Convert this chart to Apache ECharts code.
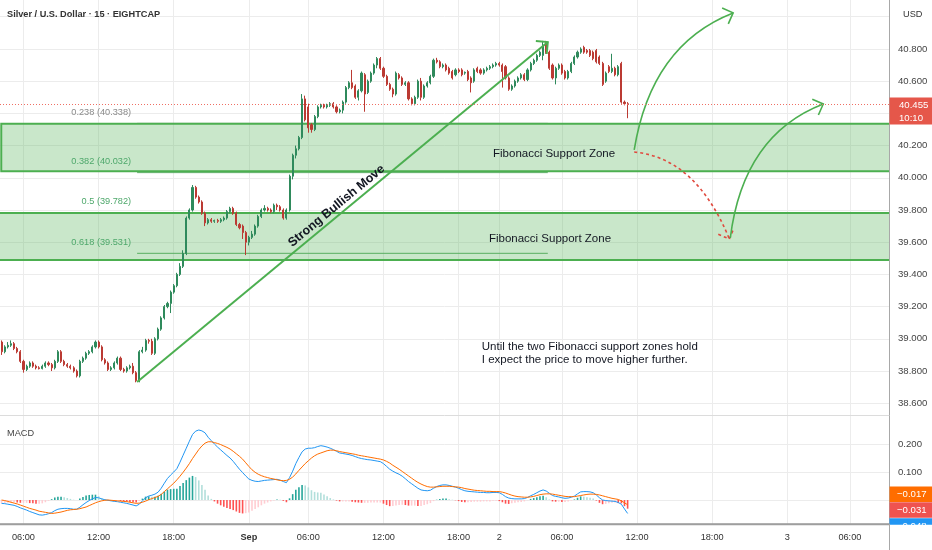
<!DOCTYPE html>
<html>
<head>
<meta charset="utf-8">
<script src="https://cdn.jsdelivr.net/npm/echarts@6/dist/echarts.min.js"></script>
<style>html,body{margin:0;padding:0;background:#fff;}#chart{width:932px;height:550px;}</style>
</head>
<body>
<div id="chart"></div>
<script>
// ---------------- data ----------------
const chartTitle = 'Silver / U.S. Dollar · 15 · EIGHTCAP';
const currency = 'USD';
const paneTitle = 'MACD';
const slotCount = 284; // bars visible incl. empty future space
const xLabelIdx = [7, 31, 55, 79, 98, 122, 146, 159, 179, 203, 227, 251, 271];
const xLabels = ['06:00', '12:00', '18:00', 'Sep', '06:00', '12:00', '18:00', '2', '06:00', '12:00', '18:00', '3', '06:00'];
const priceTicks = [38.6, 38.8, 39.0, 39.2, 39.4, 39.6, 39.8, 40.0, 40.2, 40.4, 40.6, 40.8, 41.0];
const macdTicks = [0, 0.1, 0.2];
// [open, close, low, high]
const candles = [
[38.98,38.92,38.90,38.99],[38.92,38.95,38.91,38.96],[38.95,38.96,38.94,38.98],[38.96,38.97,38.95,38.99],[38.97,38.94,38.93,38.98],
[38.94,38.92,38.91,38.95],[38.92,38.86,38.85,38.93],[38.86,38.81,38.79,38.87],[38.81,38.83,38.80,38.84],[38.83,38.85,38.82,38.86],
[38.85,38.83,38.82,38.86],[38.83,38.82,38.81,38.84],[38.82,38.815,38.81,38.83],[38.815,38.83,38.81,38.84],[38.83,38.85,38.82,38.86],
[38.85,38.84,38.83,38.86],[38.84,38.82,38.80,38.85],[38.82,38.86,38.81,38.87],[38.86,38.92,38.85,38.93],[38.92,38.86,38.85,38.93],
[38.86,38.84,38.83,38.87],[38.84,38.83,38.82,38.85],[38.83,38.82,38.81,38.84],[38.82,38.80,38.79,38.83],[38.80,38.77,38.76,38.81],
[38.77,38.86,38.76,38.87],[38.86,38.88,38.85,38.89],[38.88,38.91,38.87,38.92],[38.91,38.92,38.90,38.93],[38.92,38.95,38.91,38.96],
[38.95,38.98,38.94,38.99],[38.98,38.95,38.94,38.99],[38.95,38.87,38.86,38.96],[38.87,38.85,38.84,38.88],[38.85,38.81,38.80,38.86],
[38.81,38.82,38.80,38.83],[38.82,38.85,38.81,38.86],[38.85,38.88,38.84,38.89],[38.88,38.81,38.80,38.89],[38.81,38.80,38.79,38.82],
[38.80,38.82,38.79,38.83],[38.82,38.83,38.81,38.84],[38.83,38.79,38.78,38.85],[38.79,38.74,38.73,38.80],[38.74,38.92,38.73,38.93],
[38.92,38.93,38.91,38.95],[38.93,38.99,38.92,39.00],[38.99,38.985,38.97,39.00],[38.985,38.91,38.90,39.00],[38.91,39.00,38.90,39.01],
[39.00,39.06,38.99,39.07],[39.06,39.13,39.05,39.14],[39.13,39.20,39.12,39.21],[39.20,39.22,39.19,39.23],[39.22,39.29,39.16,39.30],
[39.29,39.33,39.28,39.34],[39.33,39.40,39.32,39.41],[39.40,39.45,39.39,39.47],[39.45,39.53,39.44,39.55],[39.53,39.75,39.52,39.76],
[39.75,39.80,39.74,39.81],[39.80,39.94,39.79,39.955],[39.94,39.88,39.87,39.95],[39.88,39.85,39.84,39.89],[39.85,39.78,39.77,39.86],
[39.78,39.72,39.70,39.79],[39.72,39.74,39.71,39.75],[39.74,39.73,39.72,39.75],[39.73,39.735,39.72,39.74],[39.735,39.73,39.72,39.745],
[39.73,39.74,39.72,39.75],[39.74,39.75,39.73,39.76],[39.75,39.79,39.74,39.80],[39.79,39.81,39.78,39.82],[39.81,39.78,39.77,39.82],
[39.78,39.71,39.70,39.79],[39.71,39.69,39.68,39.72],[39.70,39.66,39.62,39.71],[39.66,39.60,39.52,39.67],[39.60,39.63,39.58,39.64],
[39.63,39.65,39.62,39.67],[39.65,39.70,39.64,39.71],[39.70,39.76,39.69,39.77],[39.76,39.80,39.75,39.81],[39.80,39.81,39.79,39.83],
[39.81,39.80,39.79,39.82],[39.80,39.79,39.78,39.81],[39.79,39.83,39.78,39.84],[39.83,39.82,39.80,39.84],[39.82,39.80,39.79,39.83],
[39.80,39.75,39.74,39.81],[39.75,39.80,39.74,39.81],[39.80,40.01,39.79,40.02],[40.01,40.14,39.99,40.15],[40.14,40.18,40.12,40.20],
[40.18,40.25,40.17,40.26],[40.25,40.49,40.24,40.52],[40.49,40.36,40.35,40.51],[40.44,40.31,40.28,40.46],[40.33,40.30,40.28,40.34],
[40.30,40.38,40.29,40.39],[40.38,40.44,40.37,40.45],[40.44,40.45,40.43,40.46],[40.45,40.44,40.43,40.46],[40.44,40.45,40.43,40.46],
[40.45,40.46,40.44,40.47],[40.46,40.44,40.43,40.47],[40.44,40.41,40.40,40.45],[40.41,40.42,40.40,40.43],[40.42,40.47,40.40,40.48],
[40.47,40.56,40.46,40.57],[40.56,40.59,40.55,40.60],[40.59,40.56,40.55,40.67],[40.57,40.50,40.49,40.58],[40.50,40.54,40.48,40.55],
[40.54,40.65,40.53,40.66],[40.64,40.52,40.41,40.65],[40.53,40.60,40.52,40.61],[40.60,40.65,40.59,40.66],[40.65,40.70,40.64,40.71],
[40.70,40.74,40.68,40.75],[40.74,40.68,40.67,40.75],[40.68,40.63,40.62,40.69],[40.63,40.58,40.57,40.64],[40.58,40.55,40.54,40.59],
[40.55,40.52,40.50,40.56],[40.52,40.65,40.51,40.66],[40.64,40.62,40.61,40.65],[40.62,40.58,40.57,40.63],[40.58,40.59,40.57,40.60],
[40.59,40.49,40.48,40.60],[40.49,40.46,40.45,40.50],[40.46,40.50,40.45,40.51],[40.50,40.60,40.49,40.61],[40.60,40.50,40.48,40.62],
[40.50,40.57,40.49,40.58],[40.57,40.59,40.56,40.60],[40.59,40.63,40.58,40.64],[40.63,40.73,40.62,40.74],[40.73,40.72,40.71,40.745],
[40.72,40.69,40.68,40.73],[40.69,40.70,40.68,40.71],[40.70,40.67,40.66,40.71],[40.68,40.65,40.64,40.69],[40.66,40.62,40.61,40.67],
[40.64,40.67,40.63,40.68],[40.67,40.66,40.65,40.68],[40.67,40.64,40.63,40.68],[40.65,40.655,40.64,40.66],[40.66,40.61,40.60,40.67],
[40.62,40.59,40.53,40.63],[40.60,40.67,40.59,40.68],[40.68,40.66,40.65,40.69],[40.67,40.65,40.64,40.68],[40.65,40.67,40.64,40.68],
[40.67,40.68,40.66,40.69],[40.68,40.69,40.67,40.70],[40.69,40.70,40.68,40.71],[40.70,40.71,40.69,40.72],[40.71,40.70,40.69,40.72],
[40.70,40.66,40.56,40.71],[40.69,40.62,40.61,40.70],[40.62,40.55,40.54,40.63],[40.55,40.57,40.54,40.58],[40.57,40.60,40.56,40.61],
[40.60,40.62,40.59,40.63],[40.62,40.64,40.61,40.65],[40.64,40.61,40.60,40.65],[40.61,40.67,40.60,40.68],[40.67,40.71,40.66,40.72],
[40.71,40.73,40.70,40.74],[40.73,40.76,40.72,40.77],[40.76,40.78,40.75,40.79],[40.76,40.82,40.73,40.85],[40.84,40.78,40.77,40.85],
[40.78,40.68,40.67,40.79],[40.70,40.62,40.61,40.71],[40.62,40.68,40.58,40.69],[40.68,40.70,40.67,40.71],[40.70,40.65,40.64,40.71],
[40.66,40.62,40.61,40.67],[40.62,40.66,40.61,40.67],[40.66,40.71,40.65,40.72],[40.71,40.75,40.70,40.76],[40.75,40.78,40.74,40.79],
[40.78,40.80,40.77,40.81],[40.81,40.78,40.77,40.82],[40.79,40.78,40.77,40.80],[40.79,40.76,40.75,40.80],[40.78,40.74,40.73,40.79],
[40.79,40.72,40.71,40.80],[40.75,40.71,40.70,40.76],[40.71,40.58,40.57,40.72],[40.60,40.65,40.59,40.66],[40.69,40.66,40.65,40.70],
[40.66,40.68,40.65,40.77],[40.68,40.64,40.63,40.69],[40.64,40.69,40.63,40.70],[40.71,40.47,40.46,40.72],[40.47,40.46,40.45,40.48],
[40.46,40.455,40.37,40.47]
];
const countdown = '10:10';
const macd = [
-0.012,-0.013,-0.015,-0.017,-0.019,-0.023,-0.028,-0.032,-0.036,-0.041,
-0.045,-0.049,-0.053,-0.054,-0.052,-0.049,-0.045,-0.038,-0.033,-0.031,
-0.030,-0.030,-0.031,-0.033,-0.033,-0.026,-0.017,-0.009,-0.002,0.004,
0.009,0.008,0.004,0.001,-0.001,-0.003,-0.005,-0.006,-0.008,-0.010,
-0.012,-0.015,-0.018,-0.021,-0.015,-0.003,0.008,0.014,0.017,0.021,
0.028,0.042,0.060,0.077,0.089,0.100,0.112,0.135,0.160,0.185,
0.210,0.234,0.246,0.250,0.247,0.240,0.224,0.212,0.200,0.189,
0.179,0.169,0.159,0.150,0.138,0.124,0.110,0.098,0.086,0.075,
0.070,0.067,0.066,0.068,0.070,0.071,0.072,0.073,0.074,0.071,
0.066,0.062,0.080,0.103,0.130,0.152,0.172,0.182,0.185,0.185,
0.187,0.191,0.194,0.192,0.189,0.185,0.180,0.174,0.168,0.166,
0.164,0.162,0.159,0.155,0.151,0.148,0.146,0.144,0.143,0.141,
0.139,0.137,0.130,0.120,0.110,0.103,0.097,0.092,0.085,0.076,
0.066,0.058,0.050,0.042,0.036,0.034,0.033,0.035,0.042,0.048,
0.052,0.054,0.054,0.052,0.049,0.046,0.042,0.037,0.033,0.031,
0.030,0.029,0.028,0.027,0.027,0.026,0.026,0.027,0.027,0.026,
0.020,0.012,0.007,0.005,0.004,0.004,0.004,0.005,0.009,0.015,
0.020,0.026,0.032,0.036,0.032,0.024,0.016,0.013,0.011,0.008,
0.006,0.007,0.010,0.014,0.022,0.029,0.030,0.030,0.029,0.026,
0.018,0.008,0.000,-0.002,-0.003,-0.004,-0.005,-0.009,-0.015,-0.032,
-0.048];
const signal = [
0.000,-0.002,-0.005,-0.008,-0.011,-0.014,-0.018,-0.022,-0.026,-0.030,
-0.033,-0.036,-0.040,-0.042,-0.044,-0.046,-0.048,-0.047,-0.045,-0.043,
-0.040,-0.037,-0.035,-0.034,-0.033,-0.031,-0.028,-0.025,-0.020,-0.015,
-0.010,-0.006,-0.003,-0.001,0.000,-0.001,-0.002,-0.003,-0.004,-0.005,
-0.006,-0.008,-0.010,-0.012,-0.011,-0.008,-0.004,0.001,0.005,0.009,
0.013,0.020,0.030,0.040,0.050,0.060,0.072,0.085,0.099,0.114,
0.130,0.148,0.164,0.180,0.193,0.203,0.208,0.208,0.205,0.202,
0.198,0.193,0.188,0.182,0.174,0.165,0.156,0.146,0.133,0.120,
0.108,0.099,0.092,0.087,0.083,0.080,0.077,0.075,0.072,0.070,
0.069,0.070,0.074,0.082,0.093,0.106,0.118,0.130,0.140,0.150,
0.158,0.164,0.168,0.172,0.176,0.178,0.178,0.176,0.173,0.171,
0.169,0.167,0.165,0.163,0.160,0.158,0.156,0.154,0.152,0.150,
0.148,0.146,0.143,0.138,0.132,0.124,0.117,0.110,0.102,0.094,
0.086,0.078,0.070,0.063,0.057,0.052,0.048,0.046,0.046,0.047,
0.048,0.049,0.049,0.049,0.048,0.047,0.046,0.044,0.041,0.039,
0.037,0.035,0.034,0.033,0.032,0.031,0.031,0.030,0.030,0.030,
0.028,0.025,0.021,0.017,0.014,0.012,0.011,0.010,0.010,0.011,
0.013,0.016,0.019,0.021,0.022,0.022,0.021,0.019,0.017,0.015,
0.013,0.012,0.012,0.012,0.014,0.016,0.018,0.020,0.021,0.021,
0.020,0.018,0.015,0.012,0.009,0.006,0.004,0.002,-0.003,-0.010,
-0.017];
// Fibonacci tool and drawings (bar index, price)
const fibLevels = ['0.238', '0.382', '0.5', '0.618'];
const fibPrices = [40.338, 40.032, 39.782, 39.531];
const fibRange = [43.3, 174.5];
const zoneTop = [40.335, 39.782];
const zoneBottom = [40.04, 39.49];
const zoneStart = [-0.1, -3];
const zoneEnd = [300, 300];
const trendLine = [[43.3, 38.732], [174.5, 40.843]];
const arrowUp1 = [[202.1, 40.173], [207.5, 40.825], [233.7, 41.024]];
const arrowDown = [[202.1, 40.16], [221.9, 40.123], [232.5, 39.62]];
const arrowUp2 = [[232.8, 39.626], [236.9, 40.266], [262.5, 40.458]];
const zoneText = 'Fibonacci Support Zone';
const zoneTextAt = [[176.5, 40.148], [175.2, 39.62]];
const moveText = 'Strong Bullish Move';
const moveTextAt = [107.0, 39.825];
const noteText = 'Until the two Fibonacci support zones hold\nI expect the price to move higher further.';
const noteAt = [153.4, 38.909];

// ---------------- derived ----------------
const hist = macd.map((m, i) => Math.round((m - signal[i]) * 1000) / 1000);
const last = candles.length - 1;
const lastClose = candles[last][1];
const cats = Array.from({length: slotCount}, (_, i) => String(i));
const labelAt = {};
xLabelIdx.forEach((k, j) => { labelAt[k] = xLabels[j]; });
const isLabel = (i) => labelAt[i] !== undefined;

function hasFont(n) {
  const c = document.createElement('canvas').getContext('2d');
  const s = '0123456789 MACD Silver Dollar';
  c.font = '30px monospace'; const a = c.measureText(s).width;
  c.font = '30px "' + n + '", monospace'; const b = c.measureText(s).width;
  return Math.abs(a - b) > 0.5;
}
const NARROW = hasFont('Liberation Sans Narrow');
const UI = NARROW ? '"Liberation Sans Narrow", "Liberation Sans", sans-serif' : '"Liberation Sans", sans-serif';
const UIS = NARROW ? 11 : 9.2;
const UIY = NARROW ? 11.5 : 9.6;
const DRAW = '"Liberation Sans", Arial, sans-serif';

const UP = '#2f8a5c', DOWN = '#bb3a33';
const GREEN = '#4caf50';
const GRID = '#ececec';
const PRICE_RED = '#ef6f64';

function arrowHead(tip, ang, len, spread) {
  return [[tip[0] - len * Math.cos(ang - spread), tip[1] - len * Math.sin(ang - spread)], tip,
          [tip[0] - len * Math.cos(ang + spread), tip[1] - len * Math.sin(ang + spread)]];
}
const drawingPts = [trendLine, arrowUp1, arrowDown, arrowUp2];
const drawingStyle = [
  {c: GREEN, w: 2, dash: null},
  {c: GREEN, w: 1.6, dash: null},
  {c: '#e04a3f', w: 1.6, dash: [3, 3]},
  {c: GREEN, w: 1.6, dash: null}
];
function histColor(i) {
  const h = hist[i], p = i > 0 ? hist[i - 1] : h;
  if (h >= 0) return h >= p ? '#26a69a' : '#b2dfdb';
  return h < p ? '#ff5252' : '#ffcdd2';
}

const chart = echarts.init(document.getElementById('chart'), null, {renderer: 'canvas'});
const option = {
  animation: false,
  backgroundColor: '#ffffff',
  textStyle: {fontFamily: UI},
  title: [
    {text: chartTitle, left: 7, top: 10, padding: 0, textStyle: {fontFamily: UI, fontSize: UIS, fontWeight: 'bold', color: '#333'}},
    {text: paneTitle, left: 7, top: 429, padding: 0, textStyle: {fontFamily: UI, fontSize: UIS, fontWeight: 'normal', color: '#444'}},
    {text: currency, left: 903, top: 10, padding: 0, textStyle: {fontFamily: UI, fontSize: UIS, fontWeight: 'normal', color: '#333'}}
  ],
  grid: [
    {left: 0, right: 43, top: 0, height: 415},
    {left: 0, right: 43, top: 415, height: 109}
  ],
  xAxis: [
    {type: 'category', gridIndex: 0, data: cats, boundaryGap: true,
     axisLine: {show: true, onZero: false, lineStyle: {color: '#dcdcdc'}},
     axisTick: {show: false}, axisLabel: {show: false},
     splitLine: {show: true, interval: (i) => isLabel(i), alignWithLabel: true, lineStyle: {color: GRID}}},
    {type: 'category', gridIndex: 1, data: cats, boundaryGap: true,
     axisLine: {show: true, onZero: false, lineStyle: {color: '#9e9e9e', width: 1.5}},
     axisTick: {show: false, alignWithLabel: true},
     axisLabel: {show: true, interval: (i) => isLabel(i), margin: 9, color: '#333', fontSize: UIS, fontFamily: UI,
       formatter: (v, i) => { const t = labelAt[i] || ''; return t === 'Sep' ? '{b|Sep}' : t; },
       rich: {b: {fontWeight: 'bold', fontSize: UIS, fontFamily: UI, color: '#333'}}},
     splitLine: {show: true, interval: (i) => isLabel(i), alignWithLabel: true, lineStyle: {color: GRID}}},
    {type: 'value', gridIndex: 0, min: -0.5, max: slotCount - 0.5, show: false,
     axisLine: {show: false, onZero: false}, splitLine: {show: false}}
  ],
  yAxis: [
    {type: 'value', gridIndex: 0, position: 'right', min: 38.527, max: 41.104,
     axisLine: {show: true, onZero: false, lineStyle: {color: '#a8a8a8'}},
     axisTick: {show: false, customValues: priceTicks},
     axisLabel: {customValues: priceTicks, margin: 9, color: '#444', fontSize: UIY, fontFamily: UI,
       formatter: (v) => (v > 40.95 ? '' : v.toFixed(3))},
     splitLine: {show: true, lineStyle: {color: GRID}}},
    {type: 'value', gridIndex: 1, position: 'right', min: -0.0857, max: 0.3036,
     axisLine: {show: true, onZero: false, lineStyle: {color: '#a8a8a8'}},
     axisTick: {show: false, customValues: macdTicks},
     axisLabel: {customValues: macdTicks, margin: 9, color: '#444', fontSize: UIY, fontFamily: UI,
       formatter: (v) => (Math.abs(v) < 1e-9 ? '' : v.toFixed(3))},
     splitLine: {show: true, lineStyle: {color: GRID}}}
  ],
  series: [
    // Fibonacci retracement lines
    {type: 'custom', name: 'fib', xAxisIndex: 2, yAxisIndex: 0, z: 1, silent: true, clip: true,
     data: fibPrices.map((p) => [fibRange[0], p]),
     renderItem: (params, api) => {
       const k = params.dataIndex;
       const a = api.coord([fibRange[0], fibPrices[k]]);
       const b = api.coord([fibRange[1], fibPrices[k]]);
       return {type: 'line', shape: {x1: a[0], y1: a[1], x2: b[0], y2: b[1]},
               style: {stroke: k === 0 ? '#9e9e9e' : '#5fae6a', lineWidth: 1, fill: 'none'}};
     }},
    // Support zones
    {type: 'custom', name: 'zones', xAxisIndex: 2, yAxisIndex: 0, z: 2, silent: true, clip: true,
     data: zoneTop.map((t, i) => [zoneStart[i], t]),
     renderItem: (params, api) => {
       const i = params.dataIndex;
       const a = api.coord([zoneStart[i], zoneTop[i]]);
       const b = api.coord([zoneEnd[i], zoneBottom[i]]);
       return {type: 'rect', shape: {x: a[0], y: a[1], width: b[0] - a[0], height: b[1] - a[1]},
               style: {fill: 'rgba(76,175,80,0.3)', stroke: GREEN, lineWidth: 2}};
     }},
    // Candles
    {type: 'candlestick', name: 'XAGUSD', xAxisIndex: 0, yAxisIndex: 0, z: 3, silent: true,
     data: candles, barWidth: 1.6,
     itemStyle: {color: UP, color0: DOWN, borderColor: UP, borderColor0: DOWN, borderWidth: 1}},
    // Trend line and arrows
    {type: 'custom', name: 'drawings', xAxisIndex: 2, yAxisIndex: 0, z: 5, silent: true, clip: false,
     data: drawingPts.map((p) => p[0]),
     renderItem: (params, api) => {
       const i = params.dataIndex;
       const pts = drawingPts[i].map((p) => api.coord(p));
       const st = drawingStyle[i];
       const tip = pts[pts.length - 1], prev = pts[pts.length - 2];
       const ang = Math.atan2(tip[1] - prev[1], tip[0] - prev[0]);
       const style = {stroke: st.c, fill: 'none', lineWidth: st.w, lineDash: st.dash};
       const body = pts.length === 2
         ? {type: 'line', shape: {x1: pts[0][0], y1: pts[0][1], x2: pts[1][0], y2: pts[1][1]}, style: style}
         : {type: 'bezierCurve', shape: {x1: pts[0][0], y1: pts[0][1], cpx1: pts[1][0], cpy1: pts[1][1], x2: pts[2][0], y2: pts[2][1]}, style: style};
       return {type: 'group', children: [body,
         {type: 'polyline', shape: {points: arrowHead(tip, ang, 12, Math.PI / 4)},
          style: {stroke: st.c, fill: 'none', lineWidth: st.w, lineDash: st.dash}}]};
     }},
    // Texts of the drawings
    {type: 'custom', name: 'texts', xAxisIndex: 2, yAxisIndex: 0, z: 6, silent: true, clip: false,
     data: [[0, 40]],
     renderItem: (params, api) => {
       const kids = [];
       zoneTextAt.forEach((p) => {
         const c = api.coord(p);
         kids.push({type: 'text', x: c[0], y: c[1], style: {text: zoneText, fill: '#131722', fontSize: 11.5, fontFamily: DRAW, align: 'center', verticalAlign: 'middle'}});
       });
       const m = api.coord(moveTextAt);
       kids.push({type: 'text', x: m[0], y: m[1], rotation: 39.6 * Math.PI / 180, originX: 0, originY: 0,
         style: {text: moveText, fill: '#131722', fontSize: 12.5, fontWeight: 'bold', fontFamily: DRAW, align: 'center', verticalAlign: 'middle'}});
       const n = api.coord(noteAt);
       kids.push({type: 'text', x: n[0], y: n[1], style: {text: noteText, fill: '#131722', fontSize: 11.5, lineHeight: 13.5, fontFamily: DRAW, align: 'left', verticalAlign: 'middle'}});
       fibPrices.forEach((p, k) => {
         const c = api.coord([fibRange[0], p]);
         kids.push({type: 'text', x: c[0] - 6, y: c[1] - 11, style: {text: fibLevels[k] + ' (' + p.toFixed(3) + ')',
           fill: k === 0 ? '#8a8a8a' : '#4ea86b', fontSize: UIS, fontFamily: UI, align: 'right', verticalAlign: 'middle'}});
       });
       return {type: 'group', children: kids};
     }},
    // MACD histogram and lines
    {type: 'bar', name: 'Histogram', xAxisIndex: 1, yAxisIndex: 1, data: hist, barWidth: 1.6, silent: true, z: 3,
     itemStyle: {color: (p) => histColor(p.dataIndex)}},
    {type: 'line', name: 'MACD', xAxisIndex: 1, yAxisIndex: 1, data: macd, symbol: 'none', silent: true, z: 4,
     color: '#2196f3', lineStyle: {color: '#2196f3', width: 1}},
    {type: 'line', name: 'Signal', xAxisIndex: 1, yAxisIndex: 1, data: signal, symbol: 'none', silent: true, z: 4,
     color: '#ff6d00', lineStyle: {color: '#ff6d00', width: 1}},
    // Last price: dotted line across the pane + tag on the price scale
    {type: 'custom', name: 'priceTag', xAxisIndex: 2, yAxisIndex: 0, z: 10, silent: true, clip: false,
     data: [[0, lastClose]],
     renderItem: (params, api) => {
       const cs = params.coordSys; const x0 = cs.x + cs.width;
       const y = api.coord([0, lastClose])[1];
       return {type: 'group', children: [
         {type: 'line', shape: {x1: cs.x, y1: y, x2: x0, y2: y}, style: {stroke: PRICE_RED, lineWidth: 1, lineDash: [1, 2], fill: 'none'}},
         {type: 'rect', shape: {x: x0 + 0.5, y: y - 7, width: 43, height: 27}, style: {fill: '#e5574a'}},
         {type: 'text', x: x0 + 10, y: y + 0.5, style: {text: lastClose.toFixed(3), fill: '#fff', fontSize: UIY, fontFamily: UI, align: 'left', verticalAlign: 'middle'}},
         {type: 'text', x: x0 + 10, y: y + 13.5, style: {text: countdown, fill: '#fff', fontSize: UIY, fontFamily: UI, align: 'left', verticalAlign: 'middle'}}
       ]};
     }},
    // MACD value tags
    {type: 'custom', name: 'macdTags', xAxisIndex: 1, yAxisIndex: 1, z: 10, silent: true, clip: false,
     data: [[0, 0]],
     renderItem: (params, api) => {
       const cs = params.coordSys; const x0 = cs.x + cs.width; const yb = cs.y + cs.height;
       const vals = [signal[last], hist[last], macd[last]];
       const cols = ['#ff6d00', '#ef5350', '#2196f3'];
       const shift = [-10.5, 1.3, 12.6];
       const kids = [];
       vals.forEach((v, k) => {
         const y = api.coord([0, v])[1] + shift[k];
         kids.push({type: 'rect', shape: {x: x0 + 0.5, y: y - 7.75, width: 43, height: 15.5}, style: {fill: cols[k]}});
         kids.push({type: 'text', x: x0 + 8, y: y + 0.5, style: {text: v.toFixed(3).replace('-', '\u2212'), fill: '#fff', fontSize: UIY, fontFamily: UI, align: 'left', verticalAlign: 'middle'}});
       });
       kids.push({type: 'rect', shape: {x: x0 + 0.5, y: yb + 0.8, width: 43, height: 30}, style: {fill: '#ffffff'}});
       kids.push({type: 'rect', shape: {x: cs.x, y: yb - 0.2, width: cs.width + 0.5, height: 1.5}, style: {fill: '#9e9e9e'}});
       kids.push({type: 'line', shape: {x1: x0 + 0.5, y1: yb, x2: x0 + 0.5, y2: 550}, style: {stroke: '#a8a8a8', lineWidth: 1}});
       return {type: 'group', children: kids};
     }}
  ]
};
chart.setOption(option);
</script>
</body>
</html>
